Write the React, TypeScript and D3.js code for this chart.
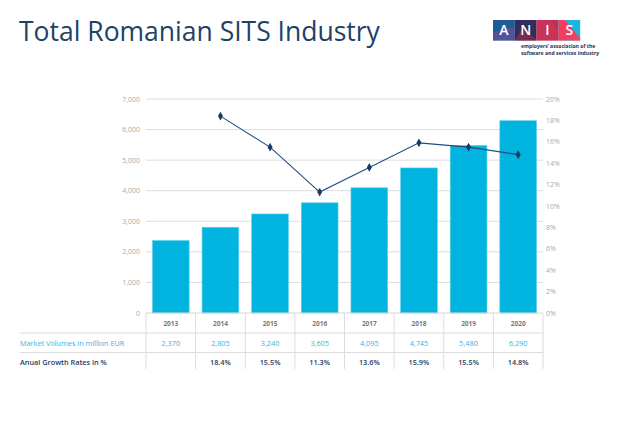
import React, { useEffect, useRef } from 'react';
import * as d3 from 'd3';

const years = ['2013', '2014', '2015', '2016', '2017', '2018', '2019', '2020'];
const volumes = [2370, 2805, 3240, 3605, 4095, 4745, 5480, 6290];
const growth: (number | null)[] = [null, 18.4, 15.5, 11.3, 13.6, 15.9, 15.5, 14.8];
const volumeLabels = ['2,370', '2,805', '3,240', '3,605', '4,095', '4,745', '5,480', '6,290'];
const growthLabels = ['', '18.4%', '15.5%', '11.3%', '13.6%', '15.9%', '15.5%', '14.8%'];
const leftTicks = [0, 1000, 2000, 3000, 4000, 5000, 6000, 7000];
const rightTicks = [0, 2, 4, 6, 8, 10, 12, 14, 16, 18, 20];

const FONT = '"Open Sans", "DejaVu Sans", sans-serif';

const App: React.FC = () => {
  const svgRef = useRef<SVGSVGElement>(null);

  useEffect(() => {
    document.body.style.margin = '0';
    if (!svgRef.current) return;
    const svg = d3.select(svgRef.current);
    svg.selectAll('*').remove();

    const left = 146;
    const right = 543;
    const top = 99;
    const bottom = 313;

    const x = d3.scaleBand<string>().domain(years).range([left, right]).paddingInner(0.26).paddingOuter(0.13);
    const step = x.step();
    const yL = d3.scaleLinear().domain([0, 7000]).range([bottom, top]);
    const yR = d3.scaleLinear().domain([0, 20]).range([bottom, top]);

    // title
    svg
      .append('text')
      .attr('x', 19)
      .attr('y', 41)
      .attr('font-family', FONT)
      .attr('font-size', 26.5)
      .attr('fill', '#1d4266')
      .text('Total Romanian SITS Industry');

    // logo
    const logo = svg.append('g').attr('transform', 'translate(493,20)');
    const bw = 21.8;
    const bh = 20.5;
    const boxColors = ['#1f5c93', '#2e2f5e', '#b53156', '#1fb3df'];
    const letters = ['A', 'N', 'I', 'S'];
    letters.forEach((_l, i) => {
      logo.append('rect').attr('x', i * bw).attr('y', 0).attr('width', bw).attr('height', bh).attr('fill', boxColors[i]);
    });
    logo.append('polygon').attr('points', `0,${bh} 0,${bh * 0.6} ${bw},${bh * 0.35} ${bw},${bh}`).attr('fill', '#6a4f9e').attr('opacity', 0.7);
    logo.append('polygon').attr('points', `${bw},${bh} ${bw * 1.4},${bh * 0.3} ${bw * 2},${bh}`).attr('fill', '#8a2b4f').attr('opacity', 0.8);
    logo.append('polygon').attr('points', `${bw * 2},0 ${bw * 2.6},0 ${bw * 3},${bh * 0.5} ${bw * 3},${bh} ${bw * 2},${bh}`).attr('fill', '#d7355a').attr('opacity', 0.6);
    logo.append('polygon').attr('points', `${bw * 3},0 ${bw * 3.3},0 ${bw * 4},${bh * 0.9} ${bw * 4},${bh} ${bw * 3},${bh}`).attr('fill', '#f0405e');
    letters.forEach((l, i) => {
      logo
        .append('text')
        .attr('x', i * bw + bw / 2)
        .attr('y', bh / 2 + 5)
        .attr('text-anchor', 'middle')
        .attr('font-family', FONT)
        .attr('font-size', 14)
        .attr('font-weight', 600)
        .attr('fill', '#ffffff')
        .text(l);
    });
    ['employers\u2019 association of the', 'software and services industry'].forEach((t, i) => {
      svg
        .append('text')
        .attr('x', 521)
        .attr('y', 47.5 + i * 7.2)
        .attr('font-family', FONT)
        .attr('font-size', 5.1)
        .attr('font-weight', 700)
        .attr('fill', '#1d3558')
        .text(t);
    });

    // gridlines
    svg
      .append('g')
      .selectAll('line')
      .data(leftTicks.slice(1))
      .join('line')
      .attr('x1', left)
      .attr('x2', right)
      .attr('y1', (d) => yL(d))
      .attr('y2', (d) => yL(d))
      .attr('stroke', '#dedede')
      .attr('stroke-width', 1);

    // left axis labels
    svg
      .append('g')
      .selectAll('text')
      .data(leftTicks)
      .join('text')
      .attr('x', 140)
      .attr('y', (d) => yL(d) + 2.5)
      .attr('text-anchor', 'end')
      .attr('font-family', FONT)
      .attr('font-size', 7)
      .attr('fill', '#aaaaaa')
      .text((d) => d3.format(',')(d));

    // right axis labels
    svg
      .append('g')
      .selectAll('text')
      .data(rightTicks)
      .join('text')
      .attr('x', 546)
      .attr('y', (d) => yR(d) + 2.5)
      .attr('font-family', FONT)
      .attr('font-size', 7)
      .attr('fill', '#aaaaaa')
      .text((d) => `${d}%`);

    // bars
    svg
      .append('g')
      .selectAll('rect')
      .data(volumes)
      .join('rect')
      .attr('x', (_d, i) => x(years[i])!)
      .attr('y', (d) => yL(d))
      .attr('width', x.bandwidth())
      .attr('height', (d) => bottom - yL(d))
      .attr('fill', '#00b4df')
      .attr('stroke', '#5fd0ee')
      .attr('stroke-width', 0.6);

    // growth line
    const pts = growth
      .map((g, i) => ({ g, year: years[i] }))
      .filter((d) => d.g !== null) as { g: number; year: string }[];
    const cx = (yr: string) => x(yr)! + x.bandwidth() / 2;
    svg
      .append('path')
      .datum(pts)
      .attr('fill', 'none')
      .attr('stroke', '#1f4d7e')
      .attr('stroke-width', 1.1)
      .attr('d', d3.line<{ g: number; year: string }>().x((d) => cx(d.year)).y((d) => yR(d.g)));
    svg
      .append('g')
      .selectAll('path')
      .data(pts)
      .join('path')
      .attr('transform', (d) => `translate(${cx(d.year)},${yR(d.g)})`)
      .attr('d', d3.symbol().type(d3.symbolDiamond).size(22)())
      .attr('fill', '#163a66');

    // table
    const rowLine1 = 333;
    const rowLine2 = 352.5;
    const tableBottom = 369;
    const table = svg.append('g');
    table
      .append('line')
      .attr('x1', left)
      .attr('x2', right)
      .attr('y1', bottom)
      .attr('y2', bottom)
      .attr('stroke', '#d6d6d6');
    [rowLine1, rowLine2].forEach((yy) => {
      table
        .append('line')
        .attr('x1', 20)
        .attr('x2', right)
        .attr('y1', yy)
        .attr('y2', yy)
        .attr('stroke', '#dcdcdc');
    });
    const seps = d3.range(years.length + 1).map((i) => left + i * step);
    table
      .selectAll('line.sep')
      .data(seps)
      .join('line')
      .attr('class', 'sep')
      .attr('x1', (d) => d)
      .attr('x2', (d) => d)
      .attr('y1', bottom)
      .attr('y2', tableBottom)
      .attr('stroke', '#dcdcdc');

    const colX = (i: number) => left + step * (i + 0.5);
    table
      .selectAll('text.yr')
      .data(years)
      .join('text')
      .attr('class', 'yr')
      .attr('x', (_d, i) => colX(i))
      .attr('y', 326)
      .attr('text-anchor', 'middle')
      .attr('font-family', FONT)
      .attr('font-size', 6.5)
      .attr('font-weight', 700)
      .attr('fill', '#7a7a7a')
      .text((d) => d);
    table
      .selectAll('text.vol')
      .data(volumeLabels)
      .join('text')
      .attr('class', 'vol')
      .attr('x', (_d, i) => colX(i))
      .attr('y', 345.5)
      .attr('text-anchor', 'middle')
      .attr('font-family', FONT)
      .attr('font-size', 7.3)
      .attr('fill', '#35b3dc')
      .text((d) => d);
    table
      .selectAll('text.gr')
      .data(growthLabels)
      .join('text')
      .attr('class', 'gr')
      .attr('x', (_d, i) => colX(i))
      .attr('y', 364.5)
      .attr('text-anchor', 'middle')
      .attr('font-family', FONT)
      .attr('font-size', 7.3)
      .attr('font-weight', 600)
      .attr('fill', '#1d3d64')
      .text((d) => d);
    table
      .append('text')
      .attr('x', 20)
      .attr('y', 345.5)
      .attr('font-family', FONT)
      .attr('font-size', 7.3)
      .attr('fill', '#35b3dc')
      .text('Market Volumes in million EUR');
    table
      .append('text')
      .attr('x', 20)
      .attr('y', 364.5)
      .attr('font-family', FONT)
      .attr('font-size', 7.3)
      .attr('font-weight', 600)
      .attr('fill', '#1d3d64')
      .text('Anual Growth Rates in %');
  }, []);

  return (
    <div>
      <svg ref={svgRef} width={620} height={439} style={{ display: 'block', background: '#ffffff' }}></svg>
    </div>
  );
};

export default App;
